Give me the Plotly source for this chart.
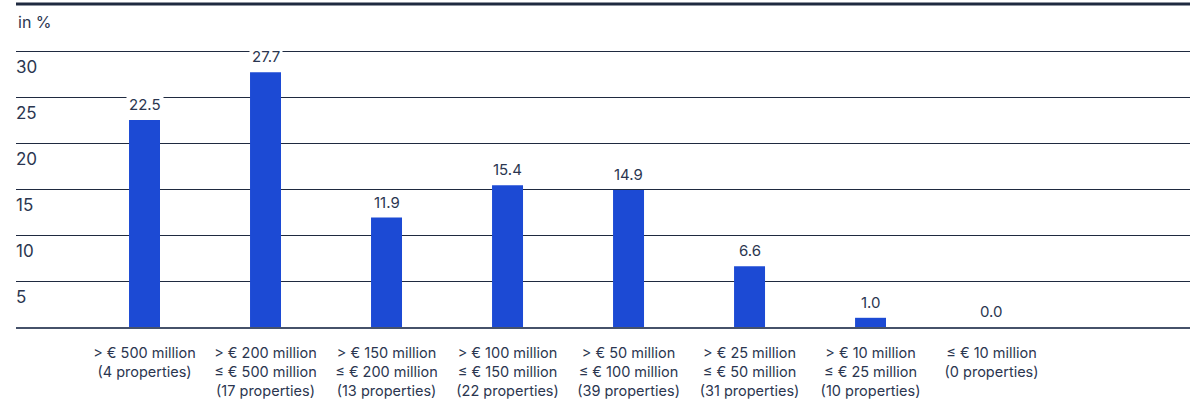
import plotly.graph_objects as go

# Share of portfolio value by property value band
categories = [
    "> € 500 million<br>(4 properties)",
    "> € 200 million<br>≤ € 500 million<br>(17 properties)",
    "> € 150 million<br>≤ € 200 million<br>(13 properties)",
    "> € 100 million<br>≤ € 150 million<br>(22 properties)",
    "> € 50 million<br>≤ € 100 million<br>(39 properties)",
    "> € 25 million<br>≤ € 50 million<br>(31 properties)",
    "> € 10 million<br>≤ € 25 million<br>(10 properties)",
    "≤ € 10 million<br>(0 properties)",
]
shares = [22.5, 27.7, 11.9, 15.4, 14.9, 6.6, 1.0, 0.0]
y_ticks = [5, 10, 15, 20, 25, 30]

BAR = "#1c4ad4"
INK = "#1f2a40"
TEXT = "#2b3650"
FONT = "Inter"

x_idx = list(range(len(categories)))

fig = go.Figure(
    go.Bar(
        x=x_idx,
        y=shares,
        width=0.256,
        marker=dict(color=BAR, line=dict(width=0)),
        hoverinfo="skip",
    )
)

# value labels with a white box so they break the gridlines
for xi, v in zip(x_idx, shares):
    fig.add_annotation(
        x=xi, y=v, text=f"{v:.1f}", showarrow=False,
        yanchor="bottom", yshift=3, bgcolor="white", borderpad=2,
        font=dict(family=FONT, size=15, color=TEXT),
    )

fig.add_annotation(
    xref="paper", yref="paper", x=0, y=0.944, text="in %",
    showarrow=False, xanchor="left", yanchor="middle",
    font=dict(family=FONT, size=16, color=TEXT),
)

# heavy rule across the top
fig.add_shape(
    type="line", xref="paper", yref="paper", x0=0, x1=1, y0=1, y1=1,
    line=dict(color=INK, width=3),
)

fig.update_layout(
    width=1194, height=399,
    margin=dict(l=16, r=4, t=4, b=72, autoexpand=False),
    paper_bgcolor="white", plot_bgcolor="white",
    showlegend=False,
    xaxis=dict(
        tickvals=x_idx, ticktext=categories,
        range=[-1.062, 8.640],
        showgrid=False, zeroline=False, automargin=False,
        showline=True, linecolor="#46526a", linewidth=1.5,
        ticks="", ticklabelstandoff=12,
        tickfont=dict(family=FONT, size=14.5, color=TEXT),
        fixedrange=True,
    ),
    yaxis=dict(
        range=[0, 35.11],
        tickvals=y_ticks, ticktext=[str(t) for t in y_ticks],
        showgrid=True, gridcolor=INK, gridwidth=1,
        zeroline=False, showline=False, ticks="", automargin=False,
        ticklabelposition="inside", ticklabelshift=16, ticklabelstandoff=-3,
        tickfont=dict(family=FONT, size=17, color=TEXT),
        fixedrange=True,
    ),
)

fig.write_html("out.html")
